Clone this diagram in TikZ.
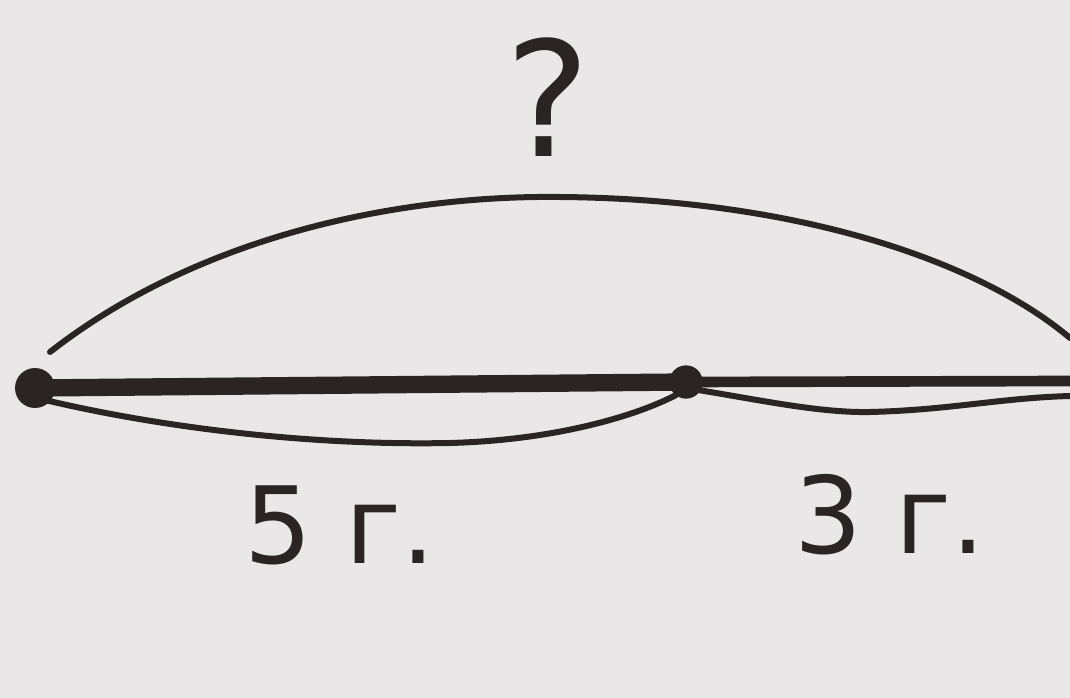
\documentclass[tikz,border=0pt]{standalone}
\usepackage{fontspec}
\setmainfont{DejaVu Sans}
\begin{document}
\begin{tikzpicture}[x=0.75pt,y=-0.75pt,
  ink/.style={draw=inkc, line cap=round, line join=round},
  dotnode/.style={circle, fill=inkc, inner sep=0pt},
  lbl/.style={text=inkc, inner sep=0pt, anchor=center}]
\definecolor{inkc}{HTML}{2B2424}
\definecolor{paper}{HTML}{E9E7E7}
\fill[paper] (0,0) rectangle (1070,698);
\useasboundingbox (0,0) rectangle (1070,698);
% points
\node[dotnode, minimum size=30pt] (A) at (35,388) {};
\node[dotnode, minimum size=25pt] (M) at (686,382) {};
\coordinate (R) at (1070,381);
\coordinate (UL) at (50,352);
\coordinate (UR) at (1070,338);
\coordinate (LL) at (45,400);
\coordinate (LM) at (676,395);
\coordinate (RM) at (698,390);
\coordinate (RR) at (1070,396);
% main line
\draw[ink, line width=13pt, line cap=butt] (A.center) -- (M.center);
\draw[ink, line width=8pt, line cap=butt] (M.center) -- (R);
% upper arc
\draw[ink, line width=4.5pt] (UL) .. controls (200,235) and (400,195) .. (560,197)
  .. controls (800,199) and (980,262) .. (UR);
% lower arcs
\draw[ink, line width=4.5pt] (LL) .. controls (150,425) and (300,446) .. (450,443)
  .. controls (560,440) and (640,414) .. (LM);
\draw[ink, line width=4.5pt] (RM) .. controls (760,400) and (820,413) .. (870,412)
  .. controls (950,410) and (1000,398) .. (RR);
% labels
\node[lbl, font=\fontsize{120}{120}\selectfont] (q) at (548,97) {?};
\node[lbl, font=\fontsize{80}{80}\selectfont] (t5) at (340,525) {5 г.};
\node[lbl, font=\fontsize{80}{80}\selectfont] (t3) at (890,515) {3 г.};
\end{tikzpicture}
\end{document}
